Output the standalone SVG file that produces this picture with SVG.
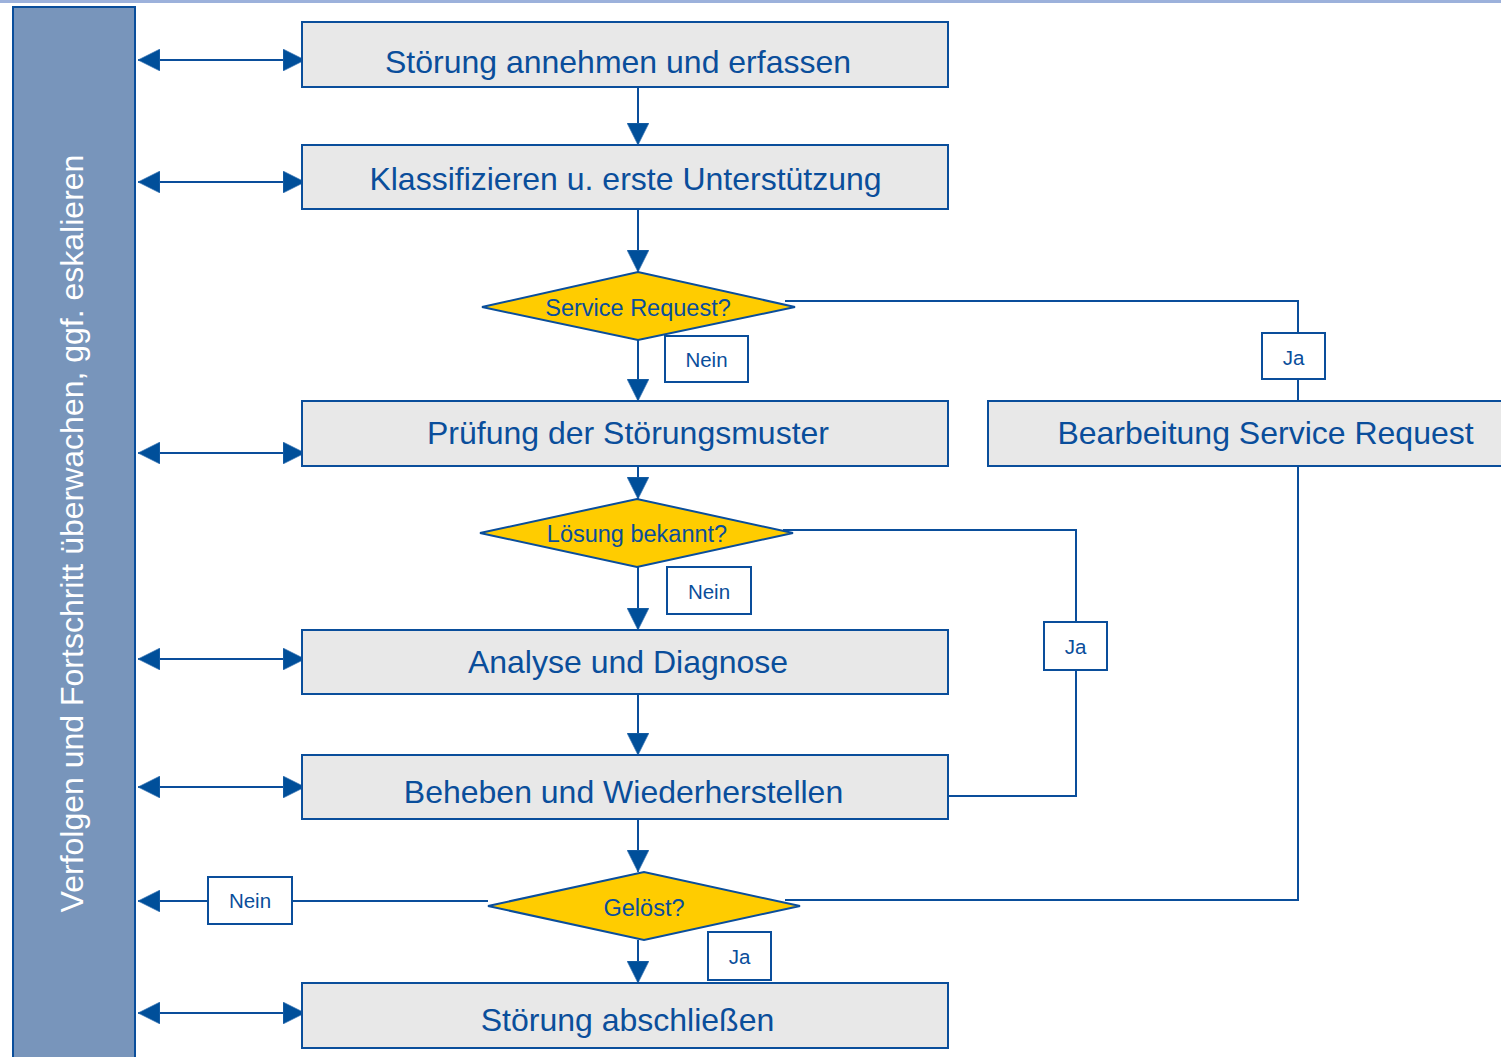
<svg xmlns="http://www.w3.org/2000/svg" width="1501" height="1057" viewBox="0 0 1501 1057">
  <style>
    .box { fill: #e8e8e8; stroke: #0a4e9b; stroke-width: 2; }
    .dec { fill: #ffcc00; stroke: #0a4e9b; stroke-width: 2; }
    .lbl { fill: #ffffff; stroke: #0a4e9b; stroke-width: 2; }
    .t { font-family: "Liberation Sans", Arial, sans-serif; fill: #0a4e9b; text-anchor: middle; }
    .big { font-size: 32px; }
    .mid { font-size: 23.5px; }
    .sm { font-size: 20.5px; }
    .ln { fill: none; stroke: #0a4e9b; stroke-width: 2; }
  </style>
  <defs>
    <marker id="arrow" markerUnits="userSpaceOnUse" markerWidth="22" markerHeight="22" viewBox="0 0 20 20" refX="20" refY="10" orient="auto-start-reverse">
      <path d="M0,0 L20,10 L0,20 Z" fill="#004f9a" stroke="#3a74b4" stroke-width="0.6"/>
    </marker>
  </defs>

  <rect x="0" y="0" width="1501" height="3" fill="#9cb1db"/>

  <!-- Tracking lane on the left -->
  <g id="lane">
    <rect x="13" y="7" width="122" height="1060" fill="#7895bb" stroke="#0a4e9b" stroke-width="2"/>
    <text class="t big" style="fill:#ffffff" transform="translate(83,533.5) rotate(-90)">Verfolgen und Fortschritt überwachen, ggf. eskalieren</text>
  </g>

  <!-- Connectors -->
  <g id="connectors" class="ln">
    <!-- lane links -->
    <line x1="138" y1="60" x2="305" y2="60" marker-start="url(#arrow)" marker-end="url(#arrow)"/>
    <line x1="138" y1="182" x2="305" y2="182" marker-start="url(#arrow)" marker-end="url(#arrow)"/>
    <line x1="138" y1="453" x2="305" y2="453" marker-start="url(#arrow)" marker-end="url(#arrow)"/>
    <line x1="138" y1="659" x2="305" y2="659" marker-start="url(#arrow)" marker-end="url(#arrow)"/>
    <line x1="138" y1="787" x2="305" y2="787" marker-start="url(#arrow)" marker-end="url(#arrow)"/>
    <line x1="138" y1="1013" x2="305" y2="1013" marker-start="url(#arrow)" marker-end="url(#arrow)"/>
    <line x1="488" y1="901" x2="138" y2="901" marker-end="url(#arrow)"/>

    <!-- main flow -->
    <line x1="638" y1="87" x2="638" y2="145" marker-end="url(#arrow)"/>
    <line x1="638" y1="209" x2="638" y2="272" marker-end="url(#arrow)"/>
    <line x1="638" y1="340" x2="638" y2="401" marker-end="url(#arrow)"/>
    <line x1="638" y1="466" x2="638" y2="499" marker-end="url(#arrow)"/>
    <line x1="638" y1="567" x2="638" y2="630" marker-end="url(#arrow)"/>
    <line x1="638" y1="694" x2="638" y2="755" marker-end="url(#arrow)"/>
    <line x1="638" y1="819" x2="638" y2="872" marker-end="url(#arrow)"/>
    <line x1="638" y1="940" x2="638" y2="983" marker-end="url(#arrow)"/>

    <!-- branches -->
    <polyline points="785,301 1298,301 1298,401"/>
    <polyline points="783,530 1076,530 1076,796 948,796"/>
    <polyline points="785,900 1298,900 1298,466"/>
  </g>

  <!-- Process steps -->
  <g id="n-annehmen">
    <rect class="box" x="302" y="22" width="646" height="65"/>
    <text class="t big" x="618" y="73">Störung annehmen und erfassen</text>
  </g>
  <g id="n-klassifizieren">
    <rect class="box" x="302" y="145" width="646" height="64"/>
    <text class="t big" x="625.5" y="190">Klassifizieren u. erste Unterstützung</text>
  </g>
  <g id="d-service-request">
    <polygon class="dec" points="482,307 638,272 795,307 638,340"/>
    <text class="t mid" x="638" y="316">Service Request?</text>
  </g>
  <g id="n-pruefung">
    <rect class="box" x="302" y="401" width="646" height="65"/>
    <text class="t big" x="628" y="444">Prüfung der Störungsmuster</text>
  </g>
  <g id="n-bearbeitung-sr">
    <rect class="box" x="988" y="401" width="530" height="65"/>
    <text class="t big" x="1265.5" y="444">Bearbeitung Service Request</text>
  </g>
  <g id="d-loesung">
    <polygon class="dec" points="480,533 637,499 793,533 637,567"/>
    <text class="t mid" x="637" y="542">Lösung bekannt?</text>
  </g>
  <g id="n-analyse">
    <rect class="box" x="302" y="630" width="646" height="64"/>
    <text class="t big" x="628" y="673">Analyse und Diagnose</text>
  </g>
  <g id="n-beheben">
    <rect class="box" x="302" y="755" width="646" height="64"/>
    <text class="t big" x="623.5" y="803">Beheben und Wiederherstellen</text>
  </g>
  <g id="d-geloest">
    <polygon class="dec" points="488,906 644,872 800,906 644,940"/>
    <text class="t mid" x="644" y="916">Gelöst?</text>
  </g>
  <g id="n-abschliessen">
    <rect class="box" x="302" y="983" width="646" height="65"/>
    <text class="t big" x="627.5" y="1031">Störung abschließen</text>
  </g>

  <!-- Branch labels -->
  <g id="l-nein-1">
    <rect class="lbl" x="665" y="336" width="83" height="46"/>
    <text class="t sm" x="706.5" y="367">Nein</text>
  </g>
  <g id="l-ja-1">
    <rect class="lbl" x="1262" y="333" width="63" height="46"/>
    <text class="t sm" x="1293.5" y="365">Ja</text>
  </g>
  <g id="l-nein-2">
    <rect class="lbl" x="667" y="567" width="84" height="47"/>
    <text class="t sm" x="709" y="599">Nein</text>
  </g>
  <g id="l-ja-2">
    <rect class="lbl" x="1044" y="622" width="63" height="48"/>
    <text class="t sm" x="1075.5" y="654">Ja</text>
  </g>
  <g id="l-nein-3">
    <rect class="lbl" x="208" y="877" width="84" height="47"/>
    <text class="t sm" x="250" y="908">Nein</text>
  </g>
  <g id="l-ja-3">
    <rect class="lbl" x="708" y="932" width="63" height="48"/>
    <text class="t sm" x="739.5" y="964">Ja</text>
  </g>
</svg>
